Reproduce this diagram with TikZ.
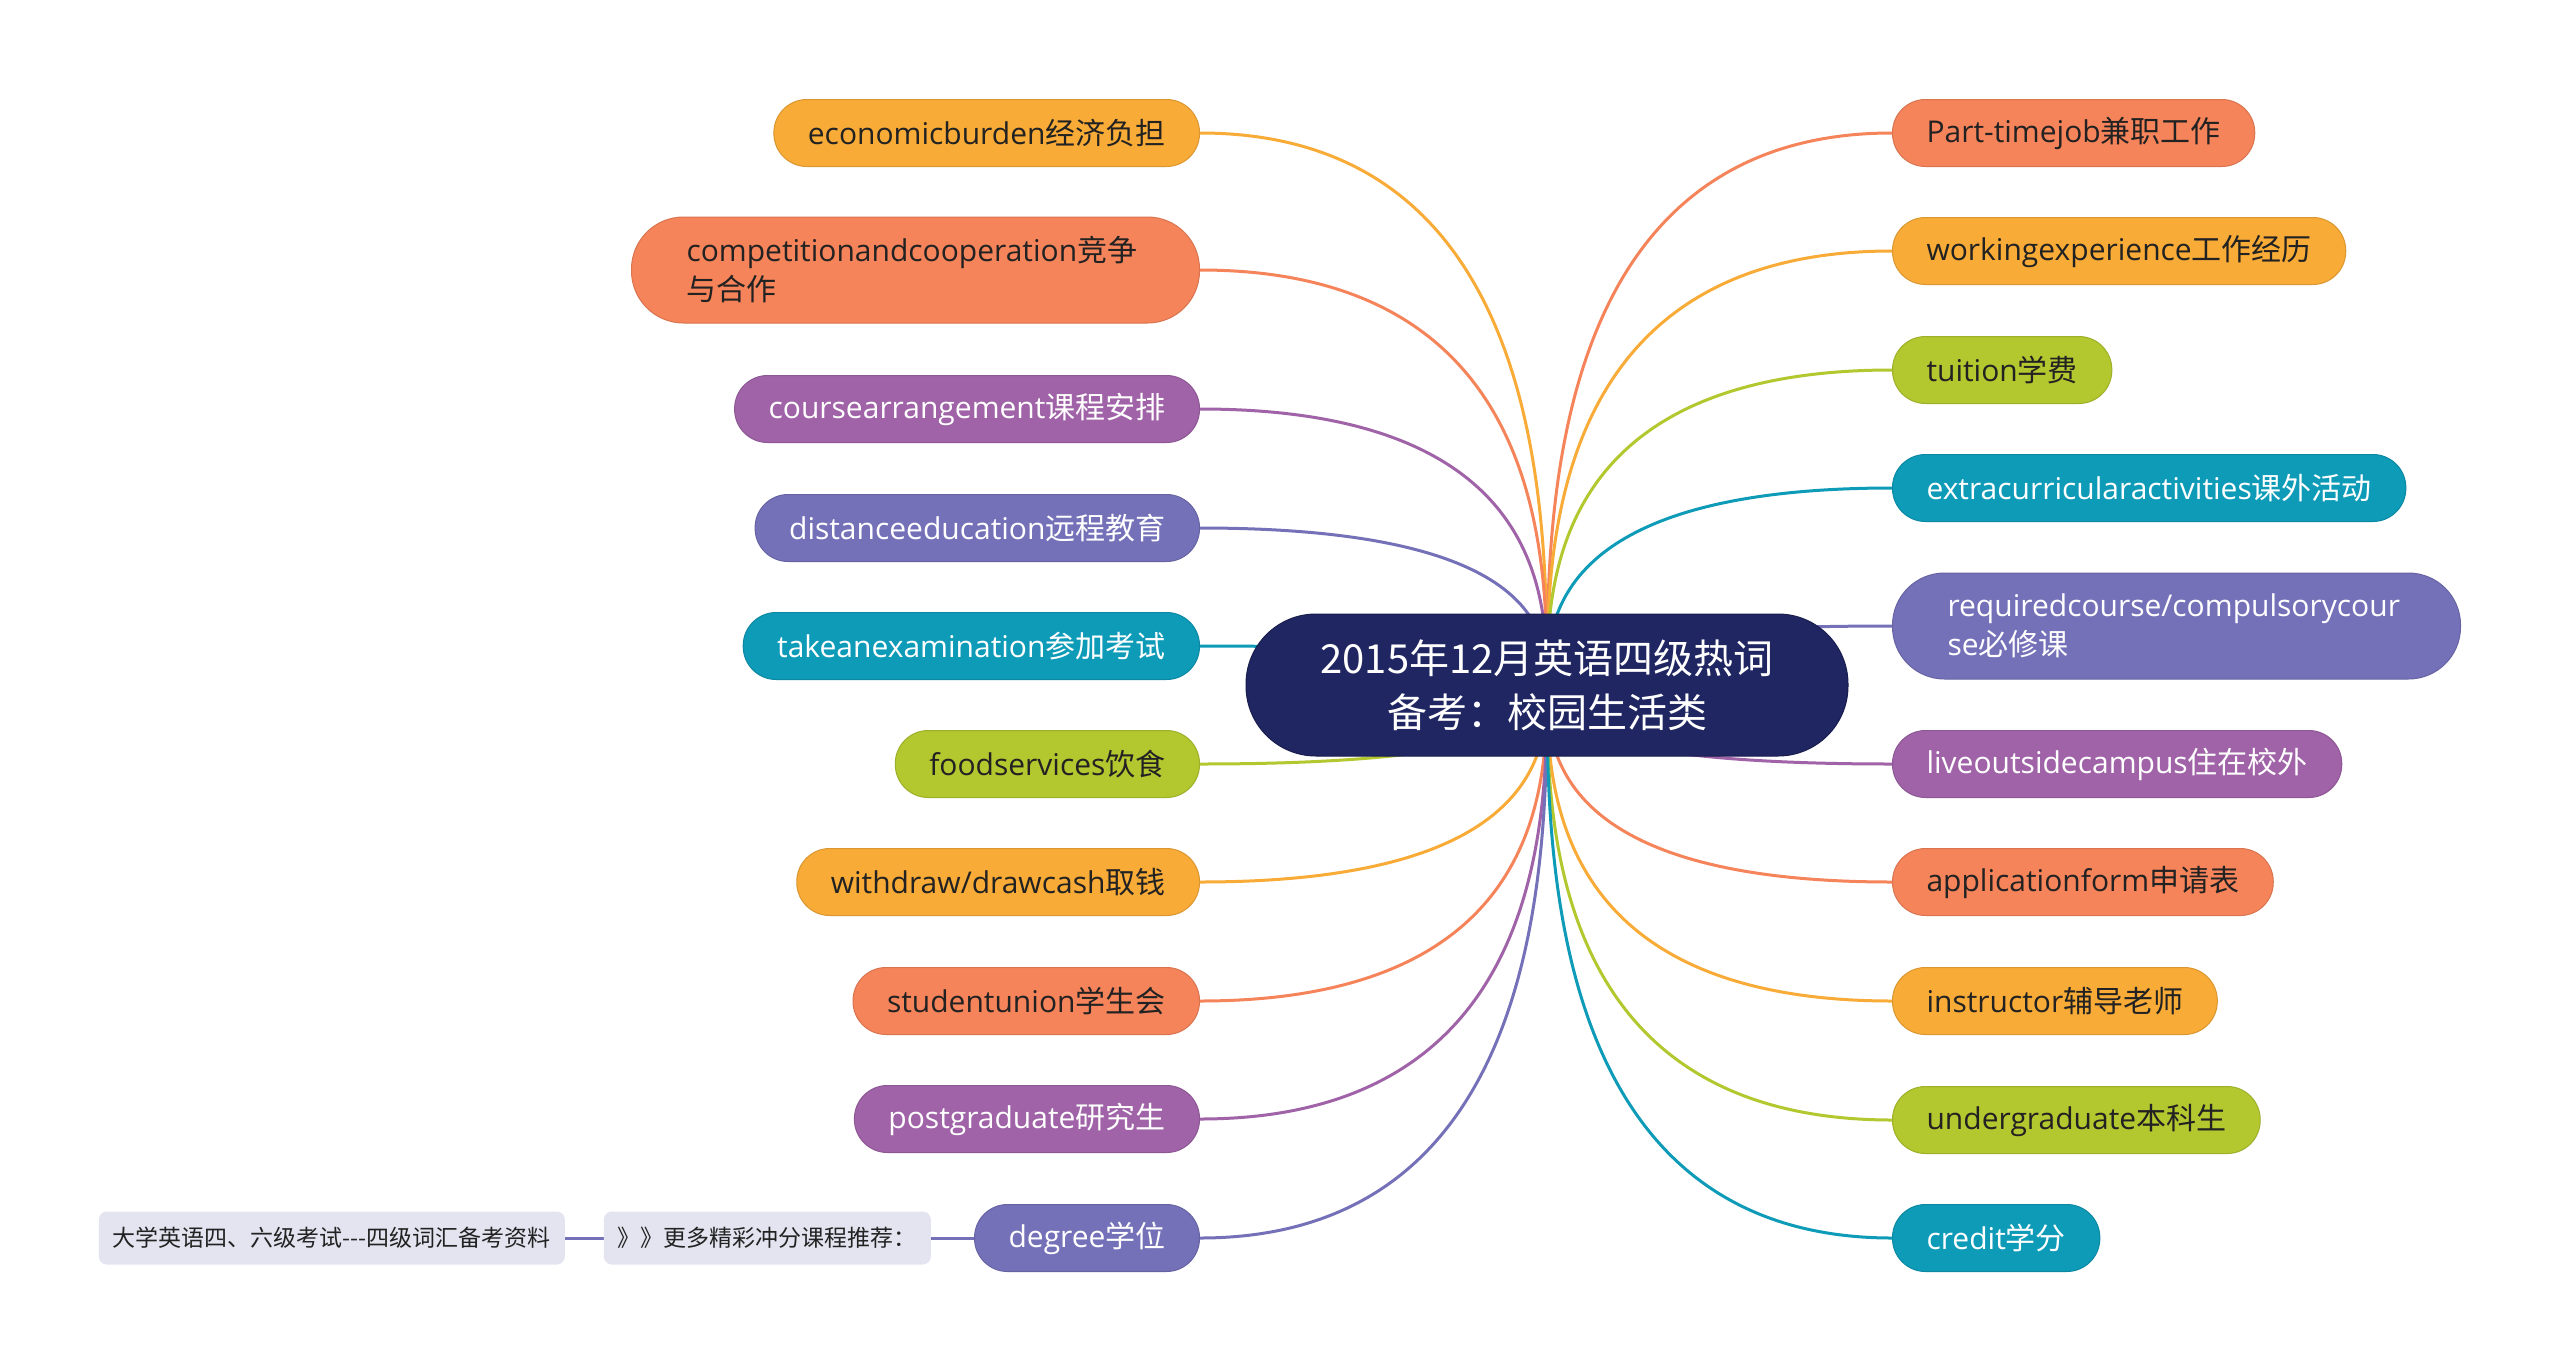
\documentclass[tikz,border=0pt]{standalone}
\usepackage{fontspec}
\setmainfont{Open Sans}
\newfontfamily\zhfont{Noto Sans CJK SC}
\newcommand\zhtxt[1]{{\zhfont #1}}
\usetikzlibrary{calc,backgrounds}
\definecolor{cOrange}{HTML}{F8AB37}
\definecolor{cCoral}{HTML}{F6845A}
\definecolor{cPurple}{HTML}{A063A8}
\definecolor{cSlate}{HTML}{7571B9}
\definecolor{cTeal}{HTML}{0E9BB8}
\definecolor{cLime}{HTML}{B3C72F}
\definecolor{cNavy}{HTML}{1F2661}
\definecolor{cPale}{HTML}{E4E4F1}
\definecolor{cInk}{HTML}{222222}
\tikzset{
  leaf/.style={rectangle, rounded corners=33pt, minimum height=67pt, inner xsep=34pt, inner ysep=0pt,
    font=\fontsize{30}{39}\selectfont, line width=1pt},
  leaftwo/.style={leaf, rounded corners=52pt, minimum height=106pt, inner xsep=55pt, text width=458pt, align=left},
  paint/.style={fill=#1, draw=#1!88!black},
  dk/.style={text=cInk},
  wt/.style={text=white},
  pale/.style={rectangle, rounded corners=8pt, fill=cPale, minimum height=53pt, inner xsep=14pt,
    text=cInk, font=\fontsize{23}{27}\selectfont\zhfont},
  conn/.style={line width=3pt},
  rootbox/.style={rectangle, fill=cNavy, draw=cNavy!80!black, line width=1pt, rounded corners=70pt,
    minimum width=602pt, minimum height=142pt, text=white, align=center,
    font=\fontsize{40}{54}\selectfont\zhfont}
}
\begin{document}
\begin{tikzpicture}[x=1pt, y=-1pt]
\useasboundingbox (0,0) rectangle (2560,1371);
\node[rootbox] (root) at (1547,685) {2015年12月英语四级热词\\备考：校园生活类};
% left branches
\node[leaf, paint=cOrange, dk, anchor=east] (l1) at (1200,133) {economicburden\zhtxt{经济负担}};
\node[leaftwo, paint=cCoral, dk, anchor=east] (l2) at (1200,270) {competitionandcooperation\zhtxt{竞争}\\\zhtxt{与合作}};
\node[leaf, paint=cPurple, wt, anchor=east] (l3) at (1200,409) {coursearrangement\zhtxt{课程安排}};
\node[leaf, paint=cSlate, wt, anchor=east] (l4) at (1200,528) {distanceeducation\zhtxt{远程教育}};
\node[leaf, paint=cTeal, wt, anchor=east] (l5) at (1200,646) {takeanexamination\zhtxt{参加考试}};
\node[leaf, paint=cLime, dk, anchor=east] (l6) at (1200,764) {foodservices\zhtxt{饮食}};
\node[leaf, paint=cOrange, dk, anchor=east] (l7) at (1200,882) {withdraw/drawcash\zhtxt{取钱}};
\node[leaf, paint=cCoral, dk, anchor=east] (l8) at (1200,1001) {studentunion\zhtxt{学生会}};
\node[leaf, paint=cPurple, wt, anchor=east] (l9) at (1200,1119) {postgraduate\zhtxt{研究生}};
\node[leaf, paint=cSlate, wt, anchor=east] (l10) at (1200,1238) {degree\zhtxt{学位}};
% right branches
\node[leaf, paint=cCoral, dk, anchor=west] (r1) at (1892,133) {Part-timejob\zhtxt{兼职工作}};
\node[leaf, paint=cOrange, dk, anchor=west] (r2) at (1892,251) {workingexperience\zhtxt{工作经历}};
\node[leaf, paint=cLime, dk, anchor=west] (r3) at (1892,370) {tuition\zhtxt{学费}};
\node[leaf, paint=cTeal, wt, anchor=west] (r4) at (1892,488) {extracurricularactivities\zhtxt{课外活动}};
\node[leaftwo, paint=cSlate, wt, anchor=west] (r5) at (1892,626) {requiredcourse/compulsorycour\\se\zhtxt{必修课}};
\node[leaf, paint=cPurple, wt, anchor=west] (r6) at (1892,764) {liveoutsidecampus\zhtxt{住在校外}};
\node[leaf, paint=cCoral, dk, anchor=west] (r7) at (1892,882) {applicationform\zhtxt{申请表}};
\node[leaf, paint=cOrange, dk, anchor=west] (r8) at (1892,1001) {instructor\zhtxt{辅导老师}};
\node[leaf, paint=cLime, dk, anchor=west] (r9) at (1892,1120) {undergraduate\zhtxt{本科生}};
\node[leaf, paint=cTeal, wt, anchor=west] (r10) at (1892,1238) {credit\zhtxt{学分}};
% extra boxes
\node[pale, anchor=east] (m1) at (931,1238) {》》更多精彩冲分课程推荐：};
\node[pale, anchor=east] (m2) at (565,1238) {大学英语四、六级考试-{}-{}-四级词汇备考资料};
\begin{scope}[on background layer]
  \fill[white] (0,0) rectangle (2560,1371);
  \foreach \n/\c in {l1/cOrange, l2/cCoral, l3/cPurple, l4/cSlate, l5/cTeal, l6/cLime, l7/cOrange, l8/cCoral, l9/cPurple, l10/cSlate}
    \draw[conn, \c] (root.center) .. controls ($(root.center)!0.3!(root.center |- \n.east)$) and (root.center |- \n.east) .. (\n.east);
  \foreach \n/\c in {r1/cCoral, r2/cOrange, r3/cLime, r4/cTeal, r5/cSlate, r6/cPurple, r7/cCoral, r8/cOrange, r9/cLime, r10/cTeal}
    \draw[conn, \c] (root.center) .. controls ($(root.center)!0.3!(root.center |- \n.west)$) and (root.center |- \n.west) .. (\n.west);
  \draw[conn, cSlate] (l10.west) -- (m1.east);
  \draw[conn, cSlate] (m1.west) -- (m2.east);
\end{scope}
\end{tikzpicture}
\end{document}
